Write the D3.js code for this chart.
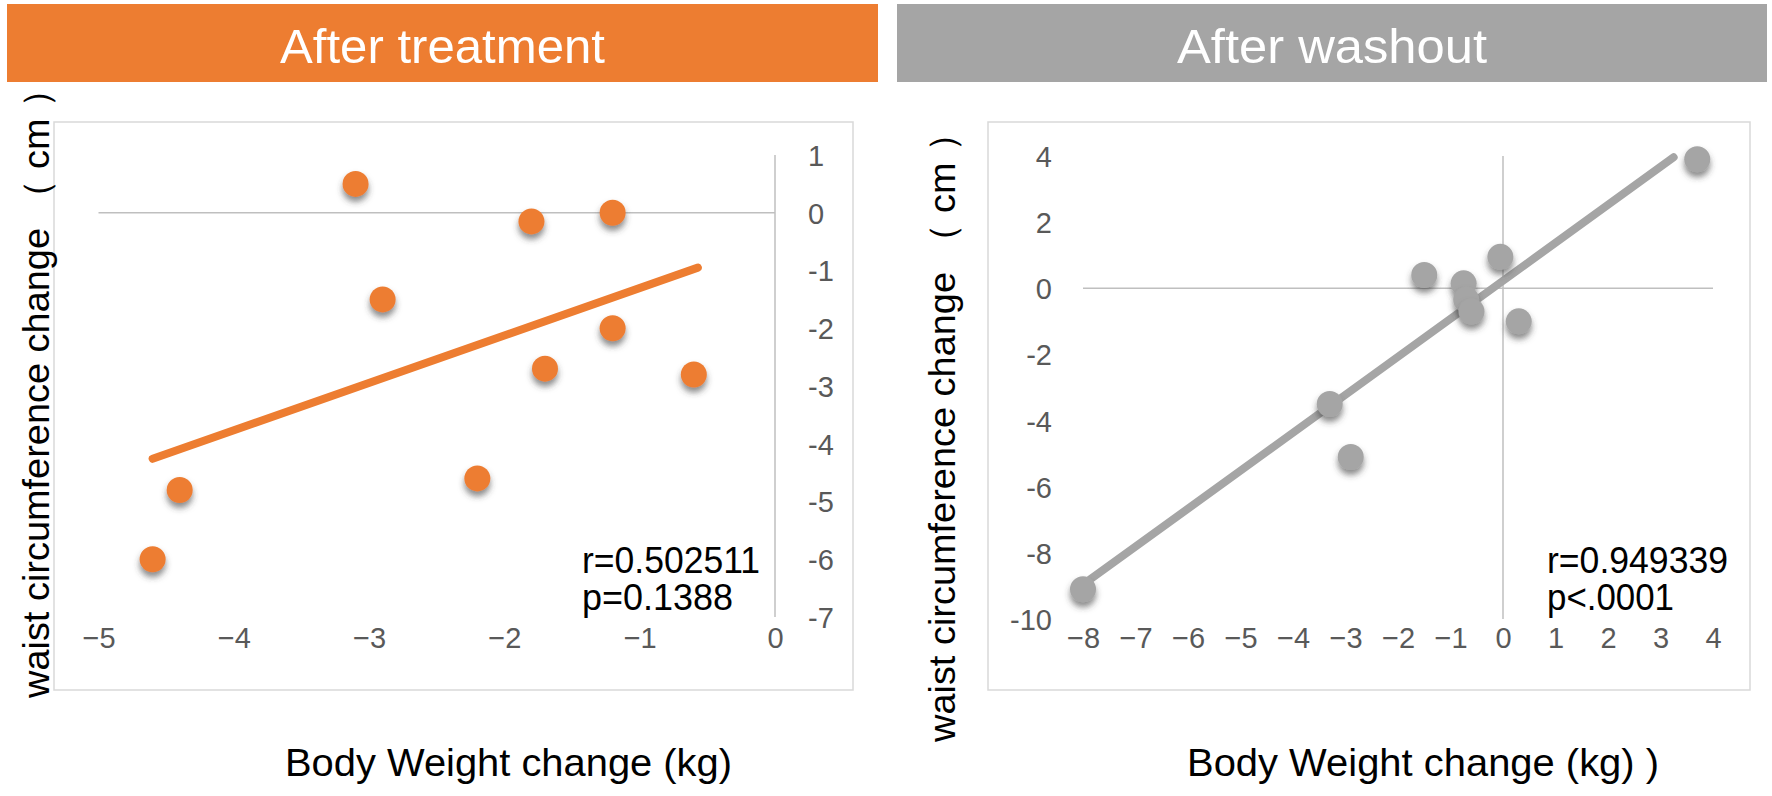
<!DOCTYPE html>
<html>
<head>
<meta charset="utf-8">
<script src="https://cdn.jsdelivr.net/npm/d3@7"></script>
<style>
html,body{margin:0;padding:0;background:#fff;}
svg{display:block;}
text{font-family:"Liberation Sans",Arial,sans-serif;}
</style>
</head>
<body>
<svg id="chart" width="1772" height="796"></svg>
<script>
// ---- data ----
const panelTitles = ["After treatment", "After washout"];
const xAxisTitles = ["Body Weight change (kg)", "Body Weight change (kg) )"];
const yAxisTitle = "waist circumference change （ cm ）";

// After treatment
const treatX = [-3.1, -1.8, -1.2, -2.9, -1.2, -1.7, -0.6, -4.4, -2.2, -4.6];
const treatY = [0.5, -0.15, 0.0, -1.5, -2.0, -2.7, -2.8, -4.8, -4.6, -6.0];
const treatTrendX = [-4.6, -0.57];
const treatTrendY = [-4.26, -0.95];
const treatStats = ["r=0.502511", "p=0.1388"];
const treatXTicks = [-5, -4, -3, -2, -1, 0];
const treatYTicks = [1, 0, -1, -2, -3, -4, -5, -6, -7];

// After washout
const washX = [3.7, -1.5, -0.75, -0.05, -0.7, -0.6, 0.3, -3.3, -2.9, -8.0];
const washY = [3.9, 0.4, 0.15, 0.95, -0.35, -0.7, -1.0, -3.5, -5.1, -9.1];
const washTrendX = [-8.0, 3.25];
const washTrendY = [-8.96, 3.96];
const washStats = ["r=0.949339", "p<.0001"];
const washXTicks = [-8, -7, -6, -5, -4, -3, -2, -1, 0, 1, 2, 3, 4];
const washYTicks = [4, 2, 0, -2, -4, -6, -8, -10];

const ORANGE = "#ED7D31", GRAY = "#A5A5A5";

const svg = d3.select("#chart");
const defs = svg.append("defs");
const f = defs.append("filter").attr("id", "shadow").attr("x", "-60%").attr("y", "-60%").attr("width", "220%").attr("height", "240%");
f.append("feDropShadow").attr("dx", 0).attr("dy", 5).attr("stdDeviation", 3)
  .attr("flood-color", "#3a3a3a").attr("flood-opacity", 0.6);

function panel(cfg) {
  const g = svg.append("g");
  const x = d3.scaleLinear().domain(cfg.xDomain).range(cfg.xRange);
  const y = d3.scaleLinear().domain(cfg.yDomain).range(cfg.yRange);

  // plot frame
  g.append("rect").attr("x", cfg.box[0]).attr("y", cfg.box[1])
    .attr("width", cfg.box[2] - cfg.box[0]).attr("height", cfg.box[3] - cfg.box[1])
    .attr("fill", "#fff").attr("stroke", "#d9d9d9").attr("stroke-width", 1.5);

  // y-axis title (rotated)
  g.append("text")
    .attr("transform", `translate(${cfg.yTitleX},${cfg.yTitleY}) rotate(-90)`)
    .attr("text-anchor", "middle")
    .attr("font-size", 37).attr("fill", "#000")
    .attr("textLength", cfg.yTitleLen).attr("lengthAdjust", "spacingAndGlyphs")
    .text(yAxisTitle);

  // header band
  g.append("rect").attr("x", cfg.header[0]).attr("y", cfg.header[1])
    .attr("width", cfg.header[2] - cfg.header[0]).attr("height", cfg.header[3] - cfg.header[1])
    .attr("fill", cfg.color);
  g.append("text").attr("x", (cfg.header[0] + cfg.header[2]) / 2).attr("y", 63)
    .attr("text-anchor", "middle").attr("font-size", 49).attr("fill", "#fff")
    .attr("textLength", cfg.titleLen).attr("lengthAdjust", "spacingAndGlyphs")
    .text(cfg.title);

  // zero lines
  g.append("line").attr("x1", x(cfg.xDomain[0])).attr("x2", x(cfg.xDomain[1]))
    .attr("y1", y(0)).attr("y2", y(0)).attr("stroke", "#bfbfbf").attr("stroke-width", 1.5);
  g.append("line").attr("x1", x(0)).attr("x2", x(0))
    .attr("y1", y(cfg.yDomain[0])).attr("y2", y(cfg.yDomain[1])).attr("stroke", "#bfbfbf").attr("stroke-width", 1.5);

  // x tick labels
  const xa = g.append("g").attr("transform", `translate(0,${cfg.xLabelY})`)
    .call(d3.axisBottom(x).tickValues(cfg.xTicks).tickSize(0).tickPadding(0).tickFormat(d3.format("d")));
  xa.select(".domain").remove();
  xa.selectAll("text").attr("font-size", 29).attr("fill", "#595959")
    .attr("font-family", "Liberation Sans, Arial, sans-serif").attr("dy", 0);

  // y tick labels
  const yAxisFn = cfg.yRight ? d3.axisRight(y) : d3.axisLeft(y);
  const ya = g.append("g").attr("transform", `translate(${cfg.yLabelX},0)`)
    .call(yAxisFn.tickValues(cfg.yTicks).tickSize(0).tickPadding(0).tickFormat(d => String(d)));
  ya.select(".domain").remove();
  ya.selectAll("text").attr("font-size", 29).attr("fill", "#595959")
    .attr("font-family", "Liberation Sans, Arial, sans-serif").attr("dy", "0.36em");

  // trend line
  const line = d3.line().x(d => x(d[0])).y(d => y(d[1]));
  g.append("path").datum(d3.zip(cfg.trendX, cfg.trendY)).attr("d", line)
    .attr("fill", "none").attr("stroke", cfg.color).attr("stroke-width", 8).attr("stroke-linecap", "round");

  // points
  g.selectAll("circle.pt").data(d3.zip(cfg.px, cfg.py)).join("circle").attr("class", "pt")
    .attr("cx", d => x(d[0])).attr("cy", d => y(d[1])).attr("r", 13)
    .attr("fill", cfg.color).attr("filter", "url(#shadow)");

  // stats text
  cfg.stats.forEach((s, i) => {
    g.append("text").attr("x", cfg.statsX).attr("y", cfg.statsY + i * 37)
      .attr("font-size", 36).attr("fill", "#000")
      .attr("textLength", cfg.statsLen[i]).attr("lengthAdjust", "spacingAndGlyphs")
      .text(s);
  });

  // x axis title
  g.append("text").attr("x", cfg.xTitleX).attr("y", 776)
    .attr("font-size", 39).attr("fill", "#000")
    .attr("textLength", cfg.xTitleLen).attr("lengthAdjust", "spacingAndGlyphs")
    .text(cfg.xTitle);
}

panel({
  title: panelTitles[0], color: ORANGE, header: [7, 4, 878, 82], titleLen: 325,
  box: [54, 122, 853, 690],
  xDomain: [-5, 0], xRange: [98.5, 775], yDomain: [-7, 1], yRange: [617, 155],
  xTicks: treatXTicks, yTicks: treatYTicks, xLabelY: 648, yLabelX: 808, yRight: true,
  px: treatX, py: treatY, trendX: treatTrendX, trendY: treatTrendY,
  stats: treatStats, statsX: 582, statsY: 573, statsLen: [178, 151],
  xTitle: xAxisTitles[0], xTitleX: 285, xTitleLen: 447,
  yTitleX: 49, yTitleY: 384, yTitleLen: 628
});

panel({
  title: panelTitles[1], color: GRAY, header: [897, 4, 1767, 82], titleLen: 310,
  box: [988, 122, 1750, 690],
  xDomain: [-8, 4], xRange: [1083, 1713], yDomain: [-10, 4], yRange: [619, 156],
  xTicks: washXTicks, yTicks: washYTicks, xLabelY: 648, yLabelX: 1052, yRight: false,
  px: washX, py: washY, trendX: washTrendX, trendY: washTrendY,
  stats: washStats, statsX: 1547, statsY: 573, statsLen: [181, 127],
  xTitle: xAxisTitles[1], xTitleX: 1187, xTitleLen: 472,
  yTitleX: 955, yTitleY: 428, yTitleLen: 628
});
</script>
</body>
</html>
